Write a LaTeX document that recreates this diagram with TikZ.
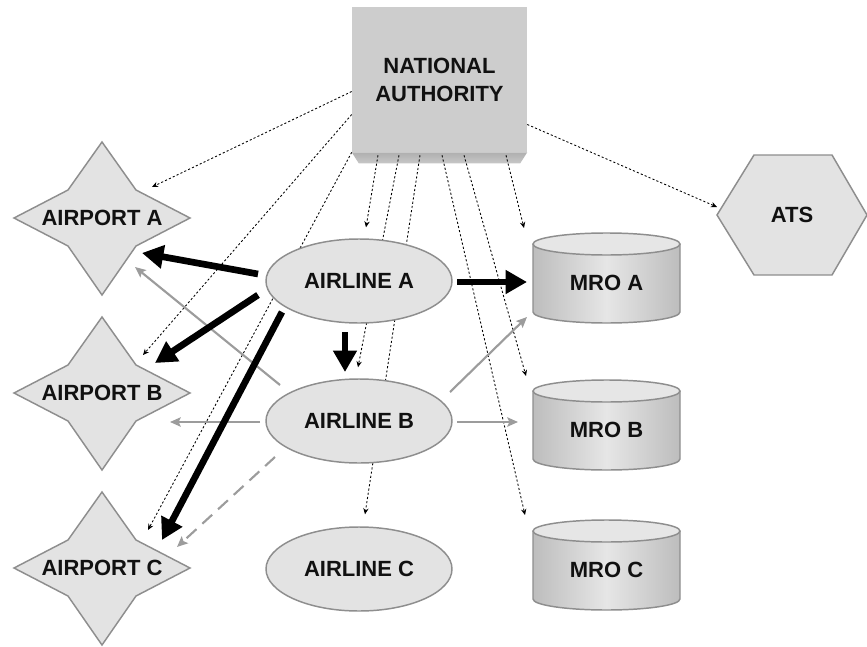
\documentclass[tikz,border=0pt]{standalone}
\usepackage{fontspec}
\setmainfont{Liberation Sans}
\usetikzlibrary{shapes.geometric,arrows.meta,calc}
\pgfdeclarelayer{bg}
\pgfdeclarelayer{shp}
\pgfsetlayers{bg,shp,main}
\definecolor{shapefill}{HTML}{E3E3E3}
\definecolor{edge}{HTML}{8E8E8E}
\definecolor{txt}{HTML}{111111}
\definecolor{nafill}{HTML}{CDCDCD}
\definecolor{bevel}{HTML}{AFAFAF}
\definecolor{glink}{HTML}{9C9C9C}
\definecolor{cyldark}{HTML}{BDBDBD}
\definecolor{cyllight}{HTML}{E6E6E6}
\tikzset{
  lbl/.style={font=\fontsize{16.5}{21}\selectfont\bfseries, text=txt, inner sep=0pt, align=center},
  airline/.style={lbl, ellipse, draw=edge, fill=shapefill, line width=1.1pt, minimum width=139.5pt, minimum height=63pt},
  starsty/.style={draw=edge, fill=shapefill, line width=1.1pt, line join=miter},
  cylsty/.style={draw=edge, line width=1.1pt},
  dotlink/.style={draw=black, line width=0.65pt, dash pattern=on 1.6pt off 1.6pt, -{Stealth[length=4.5pt,width=4pt]}},
  heavylink/.style={draw=black, line width=5pt, -{Triangle[length=16pt,width=17pt]}},
  graylink/.style={draw=glink, line width=1.6pt, -{Stealth[length=8pt,width=7pt,inset=1.5pt]}},
  graydash/.style={graylink, dash pattern=on 10pt off 6pt},
}
\newcommand\starat[1]{%
  \draw[starsty, shift={(#1)}] (0,-76) -- (34,-28) -- (88,0) -- (34,28) -- (0,77) -- (-34,28) -- (-88,0) -- (-34,-28) -- cycle;}
\newcommand\cylat[1]{%
  \shade[left color=cyldark, right color=cyldark, middle color=cyllight, shift={(#1)}]
    (-73.5,-39) -- (-73.5,29) arc[start angle=180, end angle=0, x radius=73.5, y radius=11]
    -- (73.5,-39) arc[start angle=0, end angle=180, x radius=73.5, y radius=11] -- cycle;
  \draw[cylsty, shift={(#1)}]
    (-73.5,-39) -- (-73.5,29) arc[start angle=180, end angle=0, x radius=73.5, y radius=11]
    -- (73.5,-39);
  \draw[cylsty, fill=cyllight, shift={(#1)}] (0,-39) ellipse[x radius=73.5, y radius=11];}
\begin{document}
\begin{tikzpicture}[x=0.75pt,y=-0.75pt]
\useasboundingbox (0,0) rectangle (867,646);
% national authority
\node[lbl, fill=nafill, minimum width=131.25pt, minimum height=108.75pt] (na) at (439.5,79.5) {NATIONAL\\AUTHORITY};
% airlines
\node[airline] (alA) at (359,281) {AIRLINE A};
\node[airline] (alB) at (359,421) {AIRLINE B};
\node[airline] (alC) at (359,569) {AIRLINE C};
% airports
\node[lbl] (apA) at (102,218) {AIRPORT A};
\node[lbl] (apB) at (102,393) {AIRPORT B};
\node[lbl] (apC) at (102,568) {AIRPORT C};
% MROs
\node[lbl] (mroA) at (606.5,283) {MRO A};
\node[lbl] (mroB) at (606.5,430) {MRO B};
\node[lbl] (mroC) at (606.5,570) {MRO C};
% ATS
\node[lbl] (ats) at (792,215) {ATS};
\begin{pgfonlayer}{shp}
  \starat{apA}\starat{apB}\starat{apC}
  \cylat{mroA}\cylat{mroB}\cylat{mroC}
  \draw[starsty, shift={(ats)}] (-38,-60) -- (40,-60) -- (75,0) -- (40,60) -- (-38,60) -- (-75,0) -- cycle;
\end{pgfonlayer}
\begin{pgfonlayer}{bg}
  % bevel under the authority box
  \shade[top color=bevel, bottom color=nafill!80!bevel] (na.south west) -- (na.south east) -- ($(na.south east)+(-7,11)$) -- ($(na.south west)+(7,11)$) -- cycle;
  % dotted supervision links
  \draw[dotlink] ($(na.west)+(0,12)$) -- ($(apA)+(50,-31)$);
  \draw[dotlink] ($(na.west)+(0,35)$) -- ($(apB)+(41,-38)$);
  \draw[dotlink] (na.south west) -- ($(apC)+(46,-38)$);
  \draw[dotlink] ($(na.east)+(0,45)$) -- ($(ats)+(-75,-8)$);
  \draw[dotlink] ($(na.south)+(-61.5,3)$) -- ($(alA.north)+(7,-11)$);
  \draw[dotlink] ($(na.south)+(-40.5,3)$) -- ($(alB.north)+(-1,-11)$);
  \draw[dotlink] ($(na.south)+(-19.5,3)$) -- ($(alC.north)+(6,-12)$);
  \draw[dotlink] ($(na.south)+(2.5,3)$) -- ($(mroC)+(-81.5,-55)$);
  \draw[dotlink] ($(na.south)+(24.5,3)$) -- ($(mroB)+(-80.5,-54)$);
  \draw[dotlink] ($(na.south)+(66.5,3)$) -- ($(mroA)+(-82.5,-55)$);
  % gray links from airline B
  \draw[graylink] ($(alB)+(-79,-36)$) -- ($(apA)+(33,49)$);
  \draw[graylink] ($(alB)+(-99,1)$) -- ($(apB)+(68,29)$);
  \draw[graydash] ($(alB)+(-84,36)$) -- ($(apC)+(75,-21)$);
  \draw[graylink] ($(alB)+(91,-29)$) -- ($(mroA)+(-79.5,34)$);
  \draw[graylink] ($(alB)+(98,1)$) -- ($(mroB)+(-88.5,-8)$);
  % heavy links from airline A
  \draw[heavylink] ($(alA)+(-101,-7)$) -- ($(apA)+(40,35)$);
  \draw[heavylink] ($(alA)+(-101,14)$) -- ($(apB)+(53,-30)$);
  \draw[heavylink] ($(alA)+(-77,31)$) -- ($(apC)+(60,-28)$);
  \draw[heavylink] ($(alA)+(-14,51)$) -- ($(alB)+(-14,-49)$);
  \draw[heavylink] ($(alA)+(98,1)$) -- ($(mroA)+(-79.5,-1)$);
\end{pgfonlayer}
\end{tikzpicture}
\end{document}
